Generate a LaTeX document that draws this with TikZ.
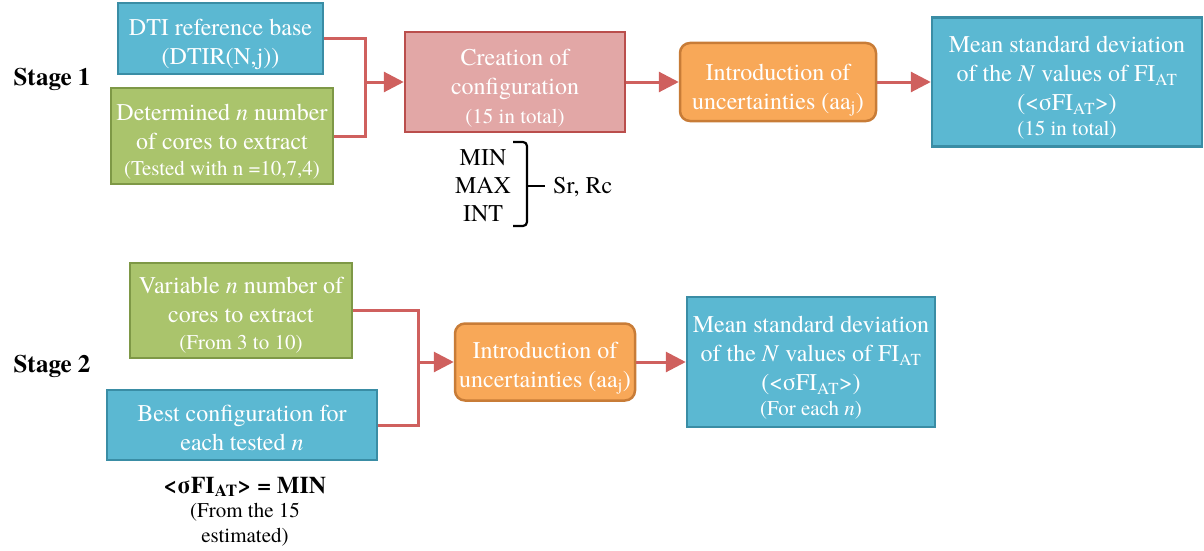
\documentclass[tikz,border=0pt]{standalone}
\usepackage{fontspec}
\setmainfont{texgyretermes}[Extension=.otf, UprightFont=*-regular, BoldFont=*-bold, ItalicFont=*-italic, BoldItalicFont=*-bolditalic]
\usetikzlibrary{arrows.meta}
\definecolor{bluefill}{RGB}{91,184,210}
\definecolor{blueline}{RGB}{58,141,165}
\definecolor{greenfill}{RGB}{170,196,108}
\definecolor{greenline}{RGB}{126,152,70}
\definecolor{pinkfill}{RGB}{226,167,166}
\definecolor{pinkline}{RGB}{186,78,76}
\definecolor{orangefill}{RGB}{248,168,88}
\definecolor{orangeline}{RGB}{200,124,55}
\definecolor{connred}{RGB}{207,96,94}
\newcommand{\bigtxt}{\fontsize{24}{29}\selectfont}
\newcommand{\smalltxt}{\fontsize{21}{25}\selectfont}
\newcommand{\fst}[1]{\rule{0pt}{#1pt}}
\tikzset{
  box/.style={draw, line width=2.5pt, text=white, align=center, inner sep=2pt, font=\bigtxt},
  bluebox/.style={box, fill=bluefill, draw=blueline},
  greenbox/.style={box, fill=greenfill, draw=greenline},
  pinkbox/.style={box, fill=pinkfill, draw=pinkline},
  orangebox/.style={box, fill=orangefill, draw=orangeline, rounded corners=10pt},
  conn/.style={draw=connred, line width=3pt},
  arr/.style={conn, -{Triangle[length=20pt,width=20pt]}},
  stagelabel/.style={font=\fontsize{25}{30}\selectfont\bfseries},
  plain/.style={align=center, font=\bigtxt, inner sep=0pt},
}
\begin{document}
\begin{tikzpicture}[x=1pt,y=-1pt]
\useasboundingbox (0,0) rectangle (1204,551);
% Stage 1
\node[stagelabel] (s1) at (52,79) {Stage 1};
\node[bluebox, minimum width=205pt, minimum height=71pt] (A) at (220.5,38.5)
  {\fst{28.5}DTI reference base\\(DTIR(N,j))};
\node[greenbox, minimum width=222pt, minimum height=96pt] (B) at (222,136)
  {\fst{28.5}Determined \textit{n} number\\of cores to extract\\[-3pt]{\smalltxt(Tested with n =10,7,4)}};
\node[pinkbox, minimum width=220pt, minimum height=100pt] (C) at (515,82)
  {\fst{29.5}Creation of\\configuration\\{\smalltxt(15 in total)}};
\node[orangebox, minimum width=196pt, minimum height=78pt] (D) at (778,82)
  {\fst{32.5}Introduction of\\uncertainties (aa\textsubscript{j})};
\node[bluebox, minimum width=270pt, minimum height=129pt] (E) at (1067,82)
  {\fst{27.5}Mean standard deviation\\of the \textit{N} values of FI\textsubscript{AT}\\(<σFI\textsubscript{AT}>)\\[-4pt]{\smalltxt(15 in total)}};
\coordinate (j1) at (365,82);
\draw[conn] (A.east) -| (j1);
\draw[conn] (B.east) -| (j1);
\draw[arr] (j1) -- (C.west);
\draw[arr] (C.east) -- (D.west);
\draw[arr] (D.east) -- (E.west);
% MIN MAX INT brace
\node[plain, font=\fontsize{24}{28}\selectfont] (mm) at (483,186) {MIN\\MAX\\INT};
\draw[line width=2.2pt, rounded corners=4pt] (513,142) -- (527,142) -- (527,226) -- (513,226);
\draw[line width=2.2pt] (527,186) -- (545,186);
\node[plain, anchor=west] (src) at (553,187) {Sr, Rc};
% Stage 2
\node[stagelabel] (s2) at (52,366) {Stage 2};
\node[greenbox, minimum width=222pt, minimum height=95pt] (F) at (241,310.5)
  {\fst{25.5}Variable \textit{n} number of\\cores to extract\\[-2pt]{\smalltxt(From 3 to 10)}};
\node[bluebox, minimum width=270pt, minimum height=70pt] (G) at (242,425)
  {\fst{22.5}Best configuration for\\each tested \textit{n}};
\node[orangebox, minimum width=180pt, minimum height=77pt] (H) at (545,362)
  {\fst{28.5}Introduction of\\uncertainties (aa\textsubscript{j})};
\node[bluebox, minimum width=248pt, minimum height=130pt] (I) at (811,362)
  {\fst{27.5}Mean standard deviation\\of the \textit{N} values of FI\textsubscript{AT}\\(<σFI\textsubscript{AT}>)\\[-4pt]{\smalltxt(For each \textit{n})}};
\coordinate (j2) at (418,362);
\draw[conn] (F.east) -| (j2);
\draw[conn] (G.east) -| (j2);
\draw[arr] (j2) -- (H.west);
\draw[arr] (H.east) -- (I.west);
\node[plain, font=\fontsize{24}{25}\selectfont\bfseries] (minlbl) at (245,487) {<σFI\textsubscript{AT}> = MIN};
\node[plain, font=\smalltxt] (from) at (245,525) {(From the 15\\estimated)};
\end{tikzpicture}
\end{document}
